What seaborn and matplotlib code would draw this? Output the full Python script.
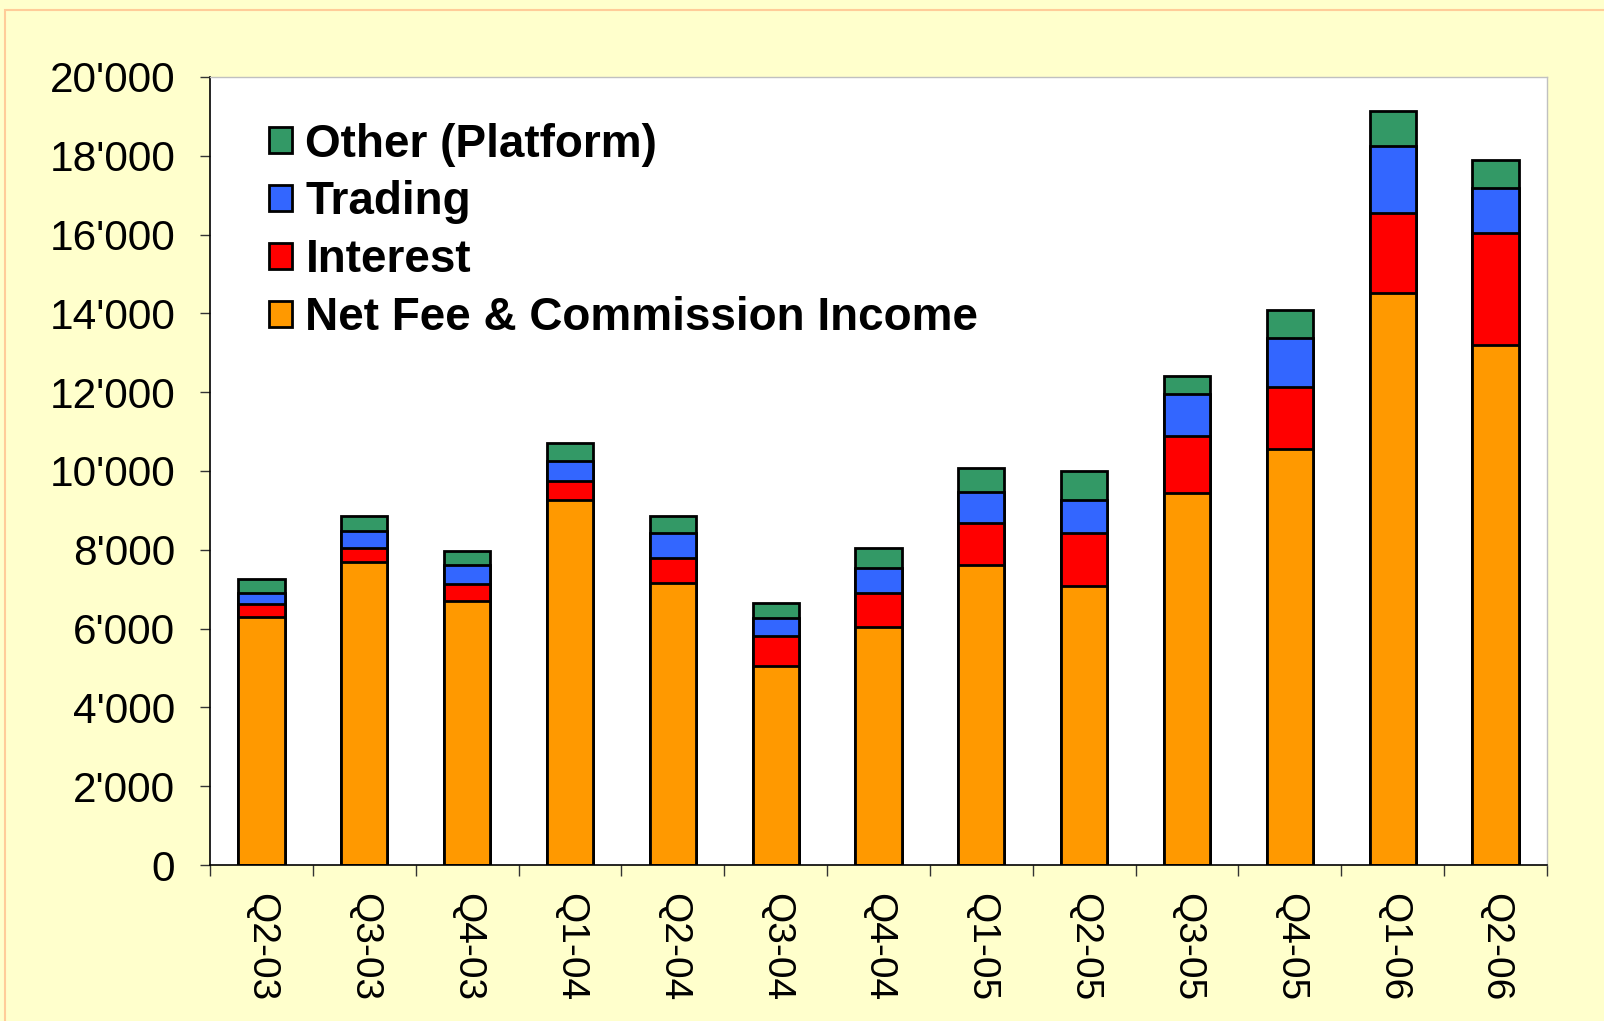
import matplotlib
matplotlib.use('Agg')
import matplotlib.pyplot as plt
from matplotlib.patches import Patch, Rectangle
import numpy as np
import seaborn as sns

# ---- data ----
quarters = ['Q2-03', 'Q3-03', 'Q4-03', 'Q1-04', 'Q2-04', 'Q3-04', 'Q4-04',
            'Q1-05', 'Q2-05', 'Q3-05', 'Q4-05', 'Q1-06', 'Q2-06']
net_fee  = [6290, 7690, 6700, 9270, 7170, 5040, 6030, 7610, 7090, 9450, 10550, 14530, 13200]
interest = [330, 360, 440, 470, 620, 780, 880, 1070, 1330, 1440, 1590, 2030, 2830]
trading  = [290, 420, 470, 520, 630, 440, 620, 780, 850, 1060, 1230, 1700, 1160]
other    = [340, 390, 360, 440, 440, 390, 520, 620, 730, 460, 720, 880, 700]

series_names = ['Net Fee & Commission Income', 'Interest', 'Trading', 'Other (Platform)']
series_vals = [net_fee, interest, trading, other]
colors = ['#FF9900', '#FF0000', '#3366FF', '#339966']
y_ticks = list(range(0, 20001, 2000))

sns.set_style('white')
plt.rcParams['font.family'] = ['Liberation Sans', 'DejaVu Sans']
plt.rcParams['text.color'] = 'black'

fig = plt.figure(figsize=(16.04, 10.21), dpi=100, facecolor='#FFFFCC')
fig.patches.append(Rectangle((5 / 1604, -0.05), 1.1, 1 - 10 / 1021 + 0.05,
                             transform=fig.transFigure, fill=False,
                             edgecolor='#FFCC99', linewidth=1.5))
ax = fig.add_axes([210 / 1604, 1 - 865 / 1021, (1547 - 210) / 1604, (865 - 77) / 1021])
ax.set_facecolor('white')

# stacked bars: draw the cumulative totals from the top layer down
cum = np.cumsum(np.array(series_vals), axis=0)
for i in range(len(series_vals) - 1, -1, -1):
    sns.barplot(x=quarters, y=cum[i], color=colors[i], saturation=1,
                edgecolor='black', linewidth=2.0, width=0.45, ax=ax)

ax.set_ylim(0, 20000)
ax.set_xlim(-0.5, len(quarters) - 0.5)
ax.set_yticks(y_ticks)
ax.set_yticklabels([f'{v:,}'.replace(',', "'") for v in y_ticks], fontsize=30.5)
ax.tick_params(axis='y', direction='out', length=7, width=1, pad=18,
               color='#333333', labelcolor='black', left=True)

ax.set_xticks(range(len(quarters)))
ax.set_xticklabels(quarters, rotation=270, fontsize=28, va='top', ha='center')
ax.tick_params(axis='x', which='major', length=0, pad=20, labelcolor='black')
ax.set_xticks(np.arange(-0.5, len(quarters), 1), minor=True)
ax.tick_params(axis='x', which='minor', direction='out', length=8, width=1,
               color='#333333', bottom=True)
ax.set_xlabel('')
ax.set_ylabel('')

for side in ['left', 'bottom']:
    ax.spines[side].set_color('black')
    ax.spines[side].set_linewidth(1.2)
for side in ['top', 'right']:
    ax.spines[side].set_color('#C0C0C0')
    ax.spines[side].set_linewidth(1.0)

handles = [Patch(facecolor=colors[i], edgecolor='black', linewidth=2.0, label=series_names[i])
           for i in range(len(series_names) - 1, -1, -1)]
leg = ax.legend(handles=handles, loc='upper left', bbox_to_anchor=(0.044, 0.942),
                frameon=False, prop={'weight': 'bold', 'size': 33},
                handlelength=0.5, handleheight=0.5, handletextpad=0.3,
                labelspacing=0.3, borderpad=0, borderaxespad=0)
for t in leg.get_texts():
    t.set_color('black')

fig.savefig('out.png', dpi=100, facecolor=fig.get_facecolor())
